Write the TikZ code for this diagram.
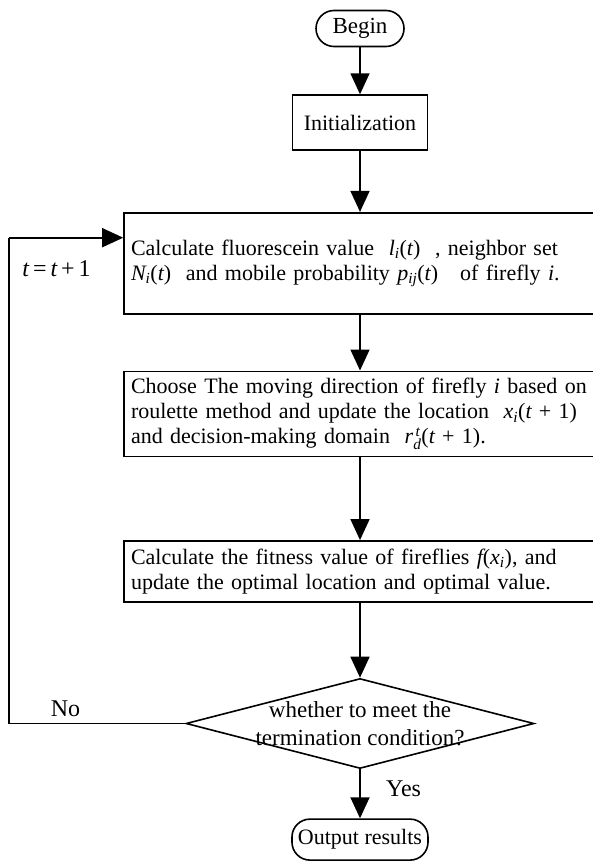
\documentclass[tikz,border=0pt]{standalone}
\usepackage{fontspec}
\setmainfont{Liberation Serif}
\usetikzlibrary{shapes,arrows.meta,positioning,calc}

\newcommand{\vi}[1]{\ensuremath{\mathit{#1}}}

\begin{document}
\begin{tikzpicture}[node distance=47pt, auto, line width=1.6pt,
        font=\fontsize{22}{25}\selectfont,
        term/.style={rectangle, draw, rounded corners=18pt, minimum height=36pt, inner xsep=6pt},
        block/.style={rectangle, draw, text width=458pt, align=left, inner xsep=7pt},
        decide/.style={diamond, draw, minimum width=348pt, minimum height=90pt, inner sep=0pt},
        line/.style={draw, -{Triangle[length=21pt,width=19pt]}},
        tag/.style={font=\fontsize{24}{28}\selectfont}]
        \useasboundingbox (0,0) rectangle (593pt,-867pt);

        \node [term, minimum width=88pt, font=\fontsize{23}{25}\selectfont] (begin) at (360pt,-28.5pt) {Begin};
        \node [rectangle, draw, minimum width=135pt, minimum height=55pt, below=47pt of begin] (init) {Initialization};
        \node [block, minimum height=101pt, below=61pt of init] (fluo) {\mbox{Calculate fluorescein value \ \vi{l}$_{\vi{i}}$(\vi{t}) \ , neighbor set}\\
            \mbox{\vi{N}$_{\vi{i}}$(\vi{t}) \ and mobile probability \vi{p}$_{\vi{ij}}$(\vi{t}) \ \ of firefly \vi{i}.}};
        \node [block, minimum height=85pt, below=56pt of fluo] (move) {\mbox{Choose The moving direction of firefly \vi{i} based on}\\
            \mbox{roulette method and update the location \ \vi{x}$_{\vi{i}}$(\vi{t} + 1)}\\
            \mbox{and decision-making domain \ \vi{r}$_{\vi{d}}^{\,\vi{t}}$(\vi{t} + 1).}};
        \node [block, minimum height=61pt, below=83pt of move] (fit) {\mbox{Calculate the fitness value of fireflies \vi{f}(\vi{x}$_{\vi{i}}$), and}\\
            \mbox{update the optimal location and optimal value.}};
        \node [decide, below=75pt of fit, label={[align=center, font=\fontsize{23}{28}\selectfont]center:whether to meet the\\termination condition?}] (cond) {};
        \node [term, minimum width=136pt, minimum height=41pt, below=49pt of cond] (out) {Output results};

        \path [line] (begin) -- (init);
        \path [line] (init) -- (fluo);
        \path [line] (fluo) -- (move);
        \path [line] (move) -- (fit);
        \path [line] (fit) -- (cond);
        \path [line] (cond) -- node [right=22pt, pos=0.4, tag] {Yes} (out);

        % loop back
        \coordinate (back) at ([yshift=25.5pt]fluo.west);
        \coordinate (lc) at ([xshift=-176pt]cond.west);
        \coordinate (lt) at (lc |- back);
        \draw (cond.west) -- node [above=3pt, pos=0.68, tag] {No} (lc) -- node [right=9pt, pos=0.936, tag] {\vi{t}\,=\,\vi{t}\,+\,1} (lt);
        \path [line] (lt) -- (back);
    \end{tikzpicture}
\end{document}
